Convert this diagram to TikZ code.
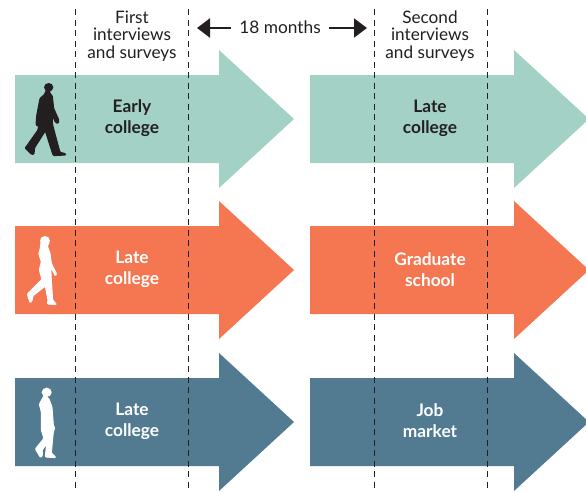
\documentclass[tikz,border=0pt]{standalone}
\usepackage{fontspec}
\setmainfont{Lato}
\usetikzlibrary{arrows.meta}
\definecolor{tealc}{HTML}{A3D1C6}
\definecolor{orangec}{HTML}{F47752}
\definecolor{bluec}{HTML}{527B91}
\definecolor{inkc}{HTML}{231F20}
\tikzset{
  bigarrow/.style={fill=#1,draw=none},
  rowlabel/.style={align=center,font=\fontsize{17.3}{21}\selectfont\bfseries,inner sep=0pt},
  toplabel/.style={align=center,font=\fontsize{17.2}{17.5}\selectfont,text=inkc,inner sep=0pt},
  guide/.style={draw=inkc,line width=1.3pt,dash pattern=on 6pt off 4.5pt},
  spanarrow/.style={draw=inkc,line width=2.2pt,-{Triangle[length=13pt,width=19pt]}},
  person/.style={rounded corners=1pt,line width=1pt,line join=round}
}
\newcommand{\rowarrow}[3]{%
  \fill[bigarrow=#3] (#1,#2-44) -- (#1+204,#2-44) -- (#1+204,#2-69) -- (#1+279,#2) -- (#1+204,#2+69) -- (#1+204,#2+44) -- (#1,#2+44) -- cycle;}
\begin{document}
\begin{tikzpicture}[x=1pt,y=-1pt]
\useasboundingbox (0,0) rectangle (586,491);
\rowarrow{15}{119}{tealc}
\rowarrow{310}{119}{tealc}
\rowarrow{15}{270}{orangec}
\rowarrow{310}{270}{orangec}
\rowarrow{15}{422}{bluec}
\rowarrow{310}{422}{bluec}
% guides
\foreach \n/\gx in {a/75.8,b/188.8,c/374.8,d/487.7}{
  \coordinate (\n top) at (\gx,9);
  \coordinate (\n bot) at (\gx,491);
  \draw[guide] (\n top) -- (\n bot);
}
% labels
\node[toplabel] (first) at (132,36) {First\\interviews\\and surveys};
\node[toplabel] (second) at (430,36) {Second\\interviews\\and surveys};
\node[inner xsep=8pt,inner ysep=0pt,text=inkc,font=\fontsize{17.3}{18}\selectfont] (months) at (280,27) {18 months};
\coordinate (mleft) at (197,28);
\coordinate (mright) at (367,28);
\draw[spanarrow] (months.west|-mleft) -- (mleft);
\draw[spanarrow] (months.east|-mright) -- (mright);
\node[rowlabel,text=inkc] (r1a) at (132,118) {Early\\college};
\node[rowlabel,text=inkc] (r1b) at (430,118) {Late\\college};
\node[rowlabel,text=white] (r2a) at (132,269.5) {Late\\college};
\node[rowlabel,text=white] (r2b) at (430,269.5) {Graduate\\school};
\node[rowlabel,text=white] (r3a) at (132,421) {Late\\college};
\node[rowlabel,text=white] (r3b) at (430,421) {Job\\market};
% black walker
\begin{scope}[shift={(10,75)},x=0.3333pt,y=-0.3333pt]
\fill[inkc] (116,37) ellipse (14 and 13);
\filldraw[inkc,person] (108,46) -- (120,48) -- (120,56) -- (127,62) -- (131,100) -- (147,136) -- (144,146) -- (136,142) -- (126,118) -- (128,150) -- (150,232) -- (167,236) -- (167,240) -- (130,242) -- (127,234) -- (106,168) -- (74,218) -- (72,238) -- (64,238) -- (45,219) -- (50,213) -- (84,165) -- (86,150) -- (84,154) -- (78,150) -- (80,122) -- (90,70) -- (104,58) -- cycle;
\end{scope}
% white woman walker
\begin{scope}[shift={(10,220)},x=0.3333pt,y=-0.3333pt]
\fill[white] (105,62) ellipse (15 and 14);
\filldraw[white,person] (94,62) -- (90,90) -- (86,100) -- (94,125) -- (88,150) -- (96,178) -- (66,208) -- (52,222) -- (60,248) -- (66,244) -- (68,228) -- (106,198) -- (114,240) -- (112,252) -- (140,254) -- (128,240) -- (124,180) -- (122,140) -- (136,168) -- (140,162) -- (124,130) -- (120,100) -- (112,78) -- (118,66) -- cycle;
\end{scope}
% white man walker
\begin{scope}[shift={(10,375)},x=0.3333pt,y=-0.3333pt]
\fill[white] (110,52) ellipse (15 and 14);
\filldraw[white,person] (102,62) -- (88,88) -- (94,110) -- (94,165) -- (102,190) -- (76,222) -- (92,248) -- (98,240) -- (96,226) -- (110,206) -- (106,246) -- (138,248) -- (124,234) -- (130,170) -- (134,160) -- (130,150) -- (126,96) -- (116,70) -- cycle;
\end{scope}
\end{tikzpicture}
\end{document}
